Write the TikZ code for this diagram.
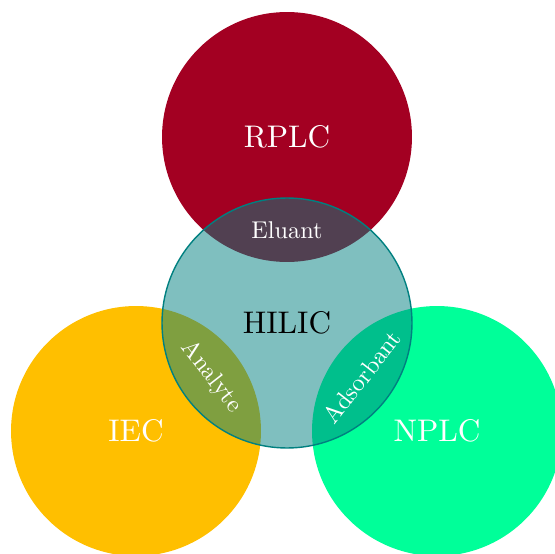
\documentclass[tikz,border=0pt]{standalone}
\usepackage{xcolor}
\usepackage{tikz}
\usetikzlibrary{calc}

\definecolor{rplcred}{RGB}{163,0,34}
\definecolor{iecgold}{RGB}{255,191,0}
\definecolor{nplcgreen}{RGB}{0,255,153}
\definecolor{hilicteal}{RGB}{0,128,128}

\begin{document}
\begin{tikzpicture}[
    x=0.02cm, y=-0.02cm,
    every node/.style={font=\normalsize},
    mode/.style={
        circle, minimum size=5cm, inner sep=0pt
    },
    hilicmode/.style={
        circle, minimum size=5cm, inner sep=0pt,
        fill=hilicteal, fill opacity=0.5, draw=hilicteal, thick
    },
    label/.style={scale=1.78, text=white},
    overlap/.style={scale=1.38, text=white},
]
\clip (0,0) rectangle (555,554);

% ── separation modes ──
\node[mode, fill=rplcred] (rplc) at (287,137) {};
\node[mode, fill=iecgold] (iec) at (136,431) {};
\node[mode, fill=nplcgreen] (nplc) at (437,431) {};

% ── HILIC on top ──
\node[hilicmode] (hilic) at (287,323) {};

% ── names ──
\node[label] (rplclabel) at (rplc) {RPLC};
\node[label] (ieclabel) at (iec) {IEC};
\node[label] (nplclabel) at (nplc) {NPLC};
\node[label, text=black] (hiliclabel) at (hilic) {HILIC};

% ── overlaps ──
\node[overlap] (eluant) at ($(rplc)!0.5!(hilic)$) {Eluant};
\node[overlap, rotate=-52] (analyte) at ($(hilic)!0.5!(iec)$) {Analyte};
\node[overlap, rotate=52] (adsorbant) at ($(hilic)!0.5!(nplc)$) {Adsorbant};

\end{tikzpicture}
\end{document}
